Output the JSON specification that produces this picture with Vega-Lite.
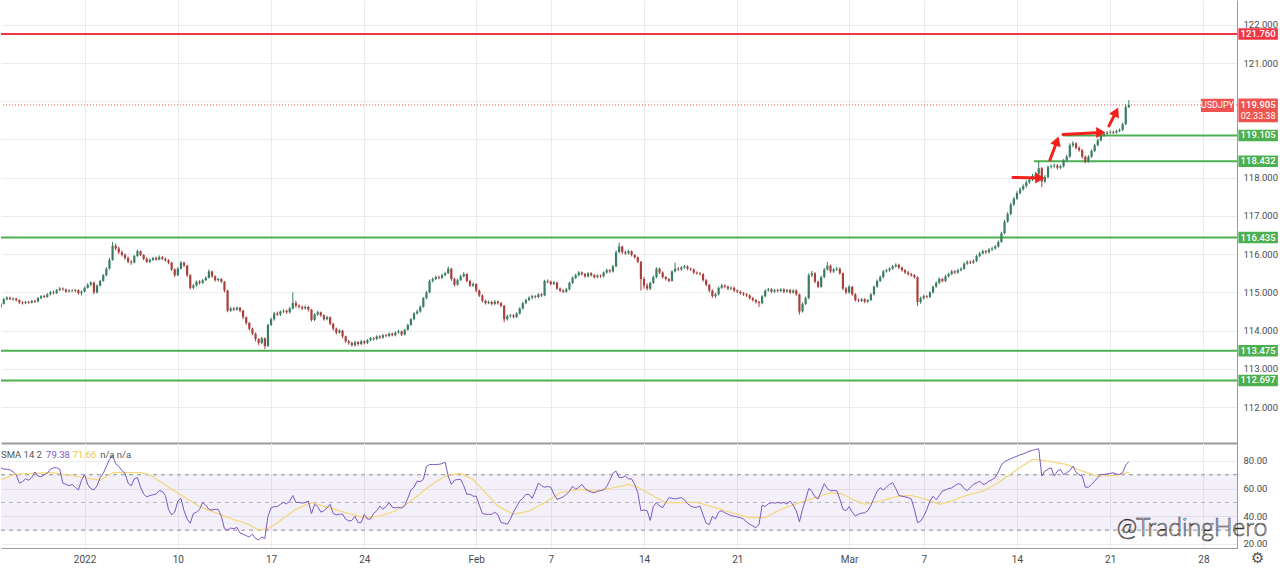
{
"$schema": "https://vega.github.io/schema/vega-lite/v6.json",
"padding": 0,
"spacing": 0,
"background": "white",
"config": {"view": {"stroke": null}, "font": "Roboto", "concat": {"spacing": 0},
  "axis": {"labelFont": "Roboto", "labelFontSize": 9.5, "labelColor": "#4a4a4a", "gridColor": "#ececec", "domainColor": "#9a9a9a", "tickColor": "#9a9a9a", "labelOverlap": false}},
"datasets": {
"levels": [
{"p":121.76,"k0":-27,"c":"red"},{"p":119.105,"k0":314.8,"c":"green"},{"p":118.432,"k0":305.5,"c":"green"},
{"p":116.435,"k0":-27,"c":"green"},{"p":113.475,"k0":-27,"c":"green"},{"p":112.697,"k0":-27,"c":"green"}],
"tags": [
{"p":121.76,"lab":"121.760","c":"red"},{"p":119.105,"lab":"119.105","c":"green"},{"p":118.432,"lab":"118.432","c":"green"},
{"p":116.435,"lab":"116.435","c":"green"},{"p":113.475,"lab":"113.475","c":"green"},{"p":112.697,"lab":"112.697","c":"green"}],
"last": [{"p":119.905,"lab":"119.905","time":"02:33:38","sym":"USDJPY"}],
"bands": [{"lo":30,"hi":70}],
"arrows": [
{"id":1,"k1":298.7,"p1":118.008,"k2":307.4,"p2":117.995},
{"id":2,"k1":310.6,"p1":118.466,"k2":312.9,"p2":118.963},
{"id":3,"k1":314.8,"p1":119.134,"k2":327.0,"p2":119.186},
{"id":4,"k1":329.6,"p1":119.356,"k2":331.9,"p2":119.723}],
"candles": [
{"k":-27,"o":114.62,"h":114.74,"l":114.58,"c":114.70,"r":75,"s":66},
{"k":-26,"o":114.70,"h":114.86,"l":114.68,"c":114.82,"r":74,"s":67},
{"k":-25,"o":114.82,"h":114.90,"l":114.79,"c":114.86,"r":74,"s":68},
{"k":-24,"o":114.86,"h":114.89,"l":114.80,"c":114.82,"r":73.5,"s":69},
{"k":-23,"o":114.82,"h":114.87,"l":114.78,"c":114.84,"r":72,"s":70},
{"k":-22,"o":114.84,"h":114.86,"l":114.76,"c":114.80,"r":70,"s":70.3},
{"k":-21,"o":114.80,"h":114.82,"l":114.70,"c":114.74,"r":64,"s":70.5},
{"k":-20,"o":114.74,"h":114.77,"l":114.68,"c":114.72,"r":65,"s":70.7},
{"k":-19,"o":114.72,"h":114.78,"l":114.69,"c":114.75,"r":67,"s":70.8},
{"k":-18,"o":114.75,"h":114.78,"l":114.70,"c":114.73,"r":66,"s":70.9},
{"k":-17,"o":114.73,"h":114.80,"l":114.71,"c":114.78,"r":68,"s":71},
{"k":-16,"o":114.78,"h":114.81,"l":114.72,"c":114.76,"r":72,"s":71.1},
{"k":-15,"o":114.76,"h":114.88,"l":114.74,"c":114.85,"r":69,"s":71.2},
{"k":-14,"o":114.85,"h":114.93,"l":114.82,"c":114.90,"r":68.5,"s":71.3},
{"k":-13,"o":114.90,"h":114.94,"l":114.85,"c":114.88,"r":70,"s":71.4},
{"k":-12,"o":114.88,"h":114.98,"l":114.86,"c":114.95,"r":71,"s":71.5},
{"k":-11,"o":114.95,"h":115.04,"l":114.92,"c":115.00,"r":74,"s":71.5},
{"k":-10,"o":115.00,"h":115.05,"l":114.95,"c":114.98,"r":75,"s":71.3},
{"k":-9,"o":114.98,"h":115.09,"l":114.96,"c":115.06,"r":75,"s":71},
{"k":-8,"o":115.06,"h":115.14,"l":115.03,"c":115.10,"r":74,"s":70.7},
{"k":-7,"o":115.10,"h":115.13,"l":115.04,"c":115.08,"r":64,"s":70.4},
{"k":-6,"o":115.08,"h":115.10,"l":114.99,"c":115.02,"r":63,"s":70},
{"k":-5,"o":115.02,"h":115.08,"l":115.00,"c":115.05,"r":62,"s":69.7},
{"k":-4,"o":115.05,"h":115.08,"l":115.01,"c":115.04,"r":63,"s":69.3},
{"k":-3,"o":115.04,"h":115.09,"l":115.00,"c":115.06,"r":61,"s":69},
{"k":-2,"o":115.06,"h":115.08,"l":114.94,"c":114.98,"r":59,"s":68.7},
{"k":-1,"o":114.98,"h":115.05,"l":114.92,"c":115.02,"r":66,"s":68.3},
{"k":0,"o":115.02,"h":115.15,"l":115.00,"c":115.12,"r":70,"s":68},
{"k":1,"o":115.12,"h":115.24,"l":115.10,"c":115.20,"r":63,"s":67.6},
{"k":2,"o":115.20,"h":115.29,"l":115.16,"c":115.26,"r":60,"s":67.2},
{"k":3,"o":115.26,"h":115.28,"l":114.95,"c":115.00,"r":59,"s":66.8},
{"k":4,"o":115.00,"h":115.21,"l":114.97,"c":115.18,"r":62,"s":66.4},
{"k":5,"o":115.18,"h":115.33,"l":115.15,"c":115.30,"r":68,"s":66},
{"k":6,"o":115.30,"h":115.48,"l":115.28,"c":115.45,"r":71,"s":67.4},
{"k":7,"o":115.45,"h":115.66,"l":115.42,"c":115.62,"r":76,"s":68.8},
{"k":8,"o":115.62,"h":115.90,"l":115.60,"c":115.85,"r":81,"s":70.2},
{"k":9,"o":115.85,"h":116.32,"l":115.83,"c":116.22,"r":84,"s":71.5},
{"k":10,"o":116.22,"h":116.28,"l":116.10,"c":116.15,"r":78,"s":71.5},
{"k":11,"o":116.15,"h":116.20,"l":116.00,"c":116.05,"r":76,"s":71.5},
{"k":12,"o":116.05,"h":116.10,"l":115.94,"c":115.98,"r":73,"s":71.5},
{"k":13,"o":115.98,"h":116.02,"l":115.85,"c":115.90,"r":71,"s":71.5},
{"k":14,"o":115.90,"h":115.94,"l":115.76,"c":115.80,"r":64,"s":71.5},
{"k":15,"o":115.80,"h":115.85,"l":115.72,"c":115.78,"r":62,"s":71.5},
{"k":16,"o":115.78,"h":115.98,"l":115.76,"c":115.95,"r":67,"s":71.5},
{"k":17,"o":115.95,"h":116.12,"l":115.93,"c":116.08,"r":68,"s":71.5},
{"k":18,"o":116.08,"h":116.10,"l":115.95,"c":115.98,"r":61,"s":71.5},
{"k":19,"o":115.98,"h":116.00,"l":115.84,"c":115.88,"r":56,"s":71},
{"k":20,"o":115.88,"h":115.92,"l":115.77,"c":115.80,"r":54,"s":70.5},
{"k":21,"o":115.80,"h":115.89,"l":115.77,"c":115.85,"r":55,"s":70},
{"k":22,"o":115.85,"h":115.93,"l":115.82,"c":115.90,"r":55.5,"s":68.5},
{"k":23,"o":115.90,"h":115.94,"l":115.83,"c":115.86,"r":56,"s":67},
{"k":24,"o":115.86,"h":115.97,"l":115.84,"c":115.92,"r":58.5,"s":65.5},
{"k":25,"o":115.92,"h":115.95,"l":115.85,"c":115.88,"r":58,"s":64},
{"k":26,"o":115.88,"h":115.91,"l":115.80,"c":115.84,"r":55,"s":62.5},
{"k":27,"o":115.84,"h":115.87,"l":115.74,"c":115.78,"r":45,"s":61},
{"k":28,"o":115.78,"h":115.80,"l":115.56,"c":115.60,"r":41,"s":59.6},
{"k":29,"o":115.60,"h":115.63,"l":115.40,"c":115.45,"r":43,"s":58.2},
{"k":30,"o":115.45,"h":115.66,"l":115.43,"c":115.62,"r":51,"s":56.8},
{"k":31,"o":115.62,"h":115.82,"l":115.60,"c":115.78,"r":53,"s":55.4},
{"k":32,"o":115.78,"h":115.80,"l":115.66,"c":115.70,"r":44,"s":54},
{"k":33,"o":115.70,"h":115.72,"l":115.40,"c":115.45,"r":38,"s":52.6},
{"k":34,"o":115.45,"h":115.48,"l":115.08,"c":115.12,"r":35,"s":51.2},
{"k":35,"o":115.12,"h":115.22,"l":115.08,"c":115.18,"r":42,"s":49.8},
{"k":36,"o":115.18,"h":115.31,"l":115.15,"c":115.28,"r":43,"s":48.4},
{"k":37,"o":115.28,"h":115.32,"l":115.21,"c":115.25,"r":45,"s":47},
{"k":38,"o":115.25,"h":115.35,"l":115.22,"c":115.32,"r":50,"s":46.1},
{"k":39,"o":115.32,"h":115.42,"l":115.30,"c":115.38,"r":48,"s":45.2},
{"k":40,"o":115.38,"h":115.60,"l":115.36,"c":115.55,"r":45,"s":44.4},
{"k":41,"o":115.55,"h":115.57,"l":115.38,"c":115.42,"r":44.5,"s":43.5},
{"k":42,"o":115.42,"h":115.45,"l":115.28,"c":115.32,"r":45,"s":42.6},
{"k":43,"o":115.32,"h":115.38,"l":115.28,"c":115.35,"r":45,"s":41.8},
{"k":44,"o":115.35,"h":115.37,"l":115.24,"c":115.28,"r":40,"s":41},
{"k":45,"o":115.28,"h":115.30,"l":115.00,"c":115.05,"r":31,"s":40.1},
{"k":46,"o":115.05,"h":115.07,"l":114.48,"c":114.52,"r":30,"s":39.3},
{"k":47,"o":114.52,"h":114.62,"l":114.49,"c":114.58,"r":31.5,"s":38.4},
{"k":48,"o":114.58,"h":114.62,"l":114.51,"c":114.55,"r":31,"s":37.6},
{"k":49,"o":114.55,"h":114.63,"l":114.52,"c":114.60,"r":32,"s":36.9},
{"k":50,"o":114.60,"h":114.62,"l":114.48,"c":114.52,"r":28,"s":36.2},
{"k":51,"o":114.52,"h":114.54,"l":114.30,"c":114.35,"r":27,"s":35.5},
{"k":52,"o":114.35,"h":114.37,"l":114.15,"c":114.20,"r":26,"s":34.7},
{"k":53,"o":114.20,"h":114.23,"l":114.00,"c":114.05,"r":25,"s":34},
{"k":54,"o":114.05,"h":114.08,"l":113.88,"c":113.92,"r":27,"s":32.7},
{"k":55,"o":113.92,"h":113.95,"l":113.72,"c":113.78,"r":24,"s":31.3},
{"k":56,"o":113.78,"h":113.80,"l":113.62,"c":113.68,"r":23,"s":30},
{"k":57,"o":113.68,"h":113.84,"l":113.65,"c":113.80,"r":25,"s":30.3},
{"k":58,"o":113.80,"h":113.82,"l":113.52,"c":113.60,"r":24,"s":30.7},
{"k":59,"o":113.60,"h":114.18,"l":113.57,"c":114.15,"r":40,"s":31},
{"k":60,"o":114.15,"h":114.34,"l":114.12,"c":114.30,"r":46,"s":32.5},
{"k":61,"o":114.30,"h":114.49,"l":114.26,"c":114.45,"r":47,"s":33.9},
{"k":62,"o":114.45,"h":114.50,"l":114.38,"c":114.42,"r":47,"s":35.4},
{"k":63,"o":114.42,"h":114.53,"l":114.38,"c":114.50,"r":48.6,"s":37},
{"k":64,"o":114.50,"h":114.56,"l":114.46,"c":114.52,"r":50,"s":38.7},
{"k":65,"o":114.52,"h":114.55,"l":114.44,"c":114.48,"r":49,"s":40.3},
{"k":66,"o":114.48,"h":114.62,"l":114.45,"c":114.58,"r":51,"s":42},
{"k":67,"o":114.58,"h":115.00,"l":114.55,"c":114.72,"r":55,"s":43.5},
{"k":68,"o":114.72,"h":114.78,"l":114.60,"c":114.65,"r":50,"s":45},
{"k":69,"o":114.65,"h":114.69,"l":114.58,"c":114.62,"r":50,"s":46},
{"k":70,"o":114.62,"h":114.66,"l":114.54,"c":114.58,"r":49.5,"s":47},
{"k":71,"o":114.58,"h":114.66,"l":114.55,"c":114.62,"r":50,"s":48},
{"k":72,"o":114.62,"h":114.65,"l":114.50,"c":114.55,"r":51,"s":49},
{"k":73,"o":114.55,"h":114.57,"l":114.24,"c":114.28,"r":42,"s":49.8},
{"k":74,"o":114.28,"h":114.46,"l":114.25,"c":114.42,"r":48.6,"s":49.2},
{"k":75,"o":114.42,"h":114.52,"l":114.39,"c":114.48,"r":47,"s":48.5},
{"k":76,"o":114.48,"h":114.50,"l":114.36,"c":114.40,"r":43,"s":47.9},
{"k":77,"o":114.40,"h":114.43,"l":114.26,"c":114.30,"r":44,"s":47.2},
{"k":78,"o":114.30,"h":114.39,"l":114.27,"c":114.35,"r":46,"s":46.6},
{"k":79,"o":114.35,"h":114.37,"l":114.14,"c":114.18,"r":48.6,"s":46},
{"k":80,"o":114.18,"h":114.21,"l":114.00,"c":114.05,"r":42,"s":45.3},
{"k":81,"o":114.05,"h":114.08,"l":113.90,"c":113.95,"r":41,"s":44.6},
{"k":82,"o":113.95,"h":114.04,"l":113.92,"c":114.00,"r":41.5,"s":44},
{"k":83,"o":114.00,"h":114.02,"l":113.80,"c":113.85,"r":41.5,"s":43.3},
{"k":84,"o":113.85,"h":113.87,"l":113.68,"c":113.72,"r":38,"s":42.6},
{"k":85,"o":113.72,"h":113.76,"l":113.63,"c":113.68,"r":36.6,"s":42},
{"k":86,"o":113.68,"h":113.71,"l":113.58,"c":113.62,"r":37,"s":41.4},
{"k":87,"o":113.62,"h":113.74,"l":113.58,"c":113.70,"r":40,"s":40.8},
{"k":88,"o":113.70,"h":113.73,"l":113.60,"c":113.65,"r":35.4,"s":40.2},
{"k":89,"o":113.65,"h":113.76,"l":113.62,"c":113.72,"r":35.4,"s":39.6},
{"k":90,"o":113.72,"h":113.75,"l":113.64,"c":113.68,"r":41.4,"s":39},
{"k":91,"o":113.68,"h":113.78,"l":113.65,"c":113.75,"r":38,"s":39.2},
{"k":92,"o":113.75,"h":113.83,"l":113.72,"c":113.80,"r":38,"s":39.5},
{"k":93,"o":113.80,"h":113.83,"l":113.74,"c":113.78,"r":42,"s":39.7},
{"k":94,"o":113.78,"h":113.88,"l":113.75,"c":113.85,"r":44,"s":40},
{"k":95,"o":113.85,"h":113.88,"l":113.78,"c":113.82,"r":47.4,"s":40.2},
{"k":96,"o":113.82,"h":113.91,"l":113.79,"c":113.88,"r":45,"s":40.9},
{"k":97,"o":113.88,"h":113.91,"l":113.83,"c":113.86,"r":47,"s":41.6},
{"k":98,"o":113.86,"h":113.95,"l":113.83,"c":113.92,"r":50,"s":42.4},
{"k":99,"o":113.92,"h":113.95,"l":113.85,"c":113.88,"r":46.5,"s":43.1},
{"k":100,"o":113.88,"h":113.98,"l":113.85,"c":113.95,"r":46,"s":43.8},
{"k":101,"o":113.95,"h":114.02,"l":113.92,"c":113.98,"r":46.5,"s":45.2},
{"k":102,"o":113.98,"h":114.00,"l":113.86,"c":113.90,"r":46,"s":46.6},
{"k":103,"o":113.90,"h":114.05,"l":113.87,"c":114.02,"r":47.5,"s":48.1},
{"k":104,"o":114.02,"h":114.18,"l":114.00,"c":114.15,"r":53,"s":49.5},
{"k":105,"o":114.15,"h":114.33,"l":114.12,"c":114.30,"r":59,"s":51},
{"k":106,"o":114.30,"h":114.48,"l":114.27,"c":114.45,"r":61,"s":52.8},
{"k":107,"o":114.45,"h":114.55,"l":114.42,"c":114.50,"r":65.4,"s":54.6},
{"k":108,"o":114.50,"h":114.66,"l":114.47,"c":114.62,"r":65,"s":56.4},
{"k":109,"o":114.62,"h":114.88,"l":114.60,"c":114.85,"r":66.6,"s":58.2},
{"k":110,"o":114.85,"h":115.04,"l":114.82,"c":115.00,"r":76,"s":60},
{"k":111,"o":115.00,"h":115.34,"l":114.98,"c":115.30,"r":77.4,"s":61.8},
{"k":112,"o":115.30,"h":115.39,"l":115.26,"c":115.35,"r":77.4,"s":63.2},
{"k":113,"o":115.35,"h":115.44,"l":115.32,"c":115.40,"r":77.4,"s":64.7},
{"k":114,"o":115.40,"h":115.44,"l":115.34,"c":115.38,"r":77.5,"s":66.1},
{"k":115,"o":115.38,"h":115.49,"l":115.35,"c":115.45,"r":78,"s":67.6},
{"k":116,"o":115.45,"h":115.54,"l":115.42,"c":115.50,"r":79,"s":69},
{"k":117,"o":115.50,"h":115.68,"l":115.48,"c":115.62,"r":69,"s":69.4},
{"k":118,"o":115.62,"h":115.64,"l":115.30,"c":115.35,"r":63,"s":69.8},
{"k":119,"o":115.35,"h":115.38,"l":115.16,"c":115.20,"r":66,"s":70.2},
{"k":120,"o":115.20,"h":115.36,"l":115.18,"c":115.32,"r":66.6,"s":70.6},
{"k":121,"o":115.32,"h":115.46,"l":115.30,"c":115.42,"r":66.6,"s":71},
{"k":122,"o":115.42,"h":115.53,"l":115.39,"c":115.48,"r":62,"s":69.9},
{"k":123,"o":115.48,"h":115.50,"l":115.26,"c":115.30,"r":55.8,"s":68.8},
{"k":124,"o":115.30,"h":115.33,"l":115.14,"c":115.18,"r":56,"s":67.7},
{"k":125,"o":115.18,"h":115.26,"l":115.14,"c":115.22,"r":54.5,"s":66.6},
{"k":126,"o":115.22,"h":115.24,"l":115.00,"c":115.05,"r":54.5,"s":64.2},
{"k":127,"o":115.05,"h":115.08,"l":114.88,"c":114.92,"r":48,"s":61.8},
{"k":128,"o":114.92,"h":114.95,"l":114.74,"c":114.78,"r":42,"s":59.4},
{"k":129,"o":114.78,"h":114.81,"l":114.68,"c":114.72,"r":41.4,"s":57},
{"k":130,"o":114.72,"h":114.79,"l":114.69,"c":114.75,"r":41.4,"s":54.6},
{"k":131,"o":114.75,"h":114.78,"l":114.66,"c":114.70,"r":41.4,"s":52.2},
{"k":132,"o":114.70,"h":114.80,"l":114.67,"c":114.76,"r":43,"s":49.8},
{"k":133,"o":114.76,"h":114.79,"l":114.68,"c":114.72,"r":41,"s":47.4},
{"k":134,"o":114.72,"h":114.75,"l":114.61,"c":114.65,"r":35.4,"s":46.2},
{"k":135,"o":114.65,"h":114.67,"l":114.22,"c":114.30,"r":35,"s":45},
{"k":136,"o":114.30,"h":114.42,"l":114.26,"c":114.38,"r":34.2,"s":43.8},
{"k":137,"o":114.38,"h":114.44,"l":114.34,"c":114.40,"r":38,"s":42.6},
{"k":138,"o":114.40,"h":114.43,"l":114.32,"c":114.36,"r":43,"s":41.4},
{"k":139,"o":114.36,"h":114.48,"l":114.33,"c":114.45,"r":47,"s":41.9},
{"k":140,"o":114.45,"h":114.61,"l":114.42,"c":114.58,"r":51,"s":42.4},
{"k":141,"o":114.58,"h":114.75,"l":114.55,"c":114.72,"r":53,"s":42.8},
{"k":142,"o":114.72,"h":114.84,"l":114.69,"c":114.80,"r":55.8,"s":43.3},
{"k":143,"o":114.80,"h":114.90,"l":114.77,"c":114.86,"r":55.8,"s":43.8},
{"k":144,"o":114.86,"h":114.94,"l":114.82,"c":114.90,"r":53,"s":45},
{"k":145,"o":114.90,"h":114.93,"l":114.84,"c":114.88,"r":58,"s":46.2},
{"k":146,"o":114.88,"h":114.98,"l":114.85,"c":114.95,"r":64,"s":47.4},
{"k":147,"o":114.95,"h":114.98,"l":114.88,"c":114.92,"r":62,"s":48.6},
{"k":148,"o":114.92,"h":115.33,"l":114.90,"c":115.30,"r":61,"s":49.8},
{"k":149,"o":115.30,"h":115.34,"l":115.24,"c":115.28,"r":61.5,"s":51.2},
{"k":150,"o":115.28,"h":115.31,"l":115.18,"c":115.22,"r":61,"s":52.7},
{"k":151,"o":115.22,"h":115.30,"l":115.19,"c":115.26,"r":56,"s":54.1},
{"k":152,"o":115.26,"h":115.28,"l":115.06,"c":115.10,"r":52.2,"s":55.6},
{"k":153,"o":115.10,"h":115.13,"l":115.01,"c":115.05,"r":53,"s":57},
{"k":154,"o":115.05,"h":115.08,"l":114.98,"c":115.02,"r":54,"s":57.4},
{"k":155,"o":115.02,"h":115.12,"l":114.99,"c":115.08,"r":55.8,"s":57.8},
{"k":156,"o":115.08,"h":115.28,"l":115.05,"c":115.25,"r":58,"s":58.2},
{"k":157,"o":115.25,"h":115.42,"l":115.22,"c":115.38,"r":61.8,"s":58.6},
{"k":158,"o":115.38,"h":115.49,"l":115.35,"c":115.45,"r":59.5,"s":59},
{"k":159,"o":115.45,"h":115.56,"l":115.42,"c":115.52,"r":61,"s":59.4},
{"k":160,"o":115.52,"h":115.55,"l":115.44,"c":115.48,"r":63,"s":59.2},
{"k":161,"o":115.48,"h":115.51,"l":115.38,"c":115.42,"r":60,"s":58.9},
{"k":162,"o":115.42,"h":115.53,"l":115.39,"c":115.50,"r":58.5,"s":58.7},
{"k":163,"o":115.50,"h":115.53,"l":115.41,"c":115.45,"r":57.5,"s":58.4},
{"k":164,"o":115.45,"h":115.48,"l":115.36,"c":115.40,"r":57,"s":58.2},
{"k":165,"o":115.40,"h":115.47,"l":115.37,"c":115.44,"r":58,"s":58.6},
{"k":166,"o":115.44,"h":115.47,"l":115.38,"c":115.42,"r":58.5,"s":59},
{"k":167,"o":115.42,"h":115.55,"l":115.39,"c":115.52,"r":59,"s":59.4},
{"k":168,"o":115.52,"h":115.62,"l":115.49,"c":115.58,"r":61.5,"s":59.8},
{"k":169,"o":115.58,"h":115.61,"l":115.51,"c":115.55,"r":66,"s":60.2},
{"k":170,"o":115.55,"h":115.72,"l":115.52,"c":115.68,"r":71,"s":60.6},
{"k":171,"o":115.68,"h":116.10,"l":115.66,"c":116.05,"r":72.6,"s":61.1},
{"k":172,"o":116.05,"h":116.30,"l":116.02,"c":116.20,"r":68,"s":61.6},
{"k":173,"o":116.20,"h":116.22,"l":116.00,"c":116.05,"r":68,"s":62},
{"k":174,"o":116.05,"h":116.10,"l":115.98,"c":116.02,"r":69,"s":62.5},
{"k":175,"o":116.02,"h":116.12,"l":115.99,"c":116.08,"r":67,"s":63},
{"k":176,"o":116.08,"h":116.10,"l":115.94,"c":115.98,"r":67,"s":62.3},
{"k":177,"o":115.98,"h":116.00,"l":115.88,"c":115.92,"r":63,"s":61.7},
{"k":178,"o":115.92,"h":115.94,"l":115.76,"c":115.80,"r":57,"s":61},
{"k":179,"o":115.80,"h":115.82,"l":115.05,"c":115.35,"r":44,"s":59.7},
{"k":180,"o":115.35,"h":115.40,"l":115.10,"c":115.18,"r":44.5,"s":58.4},
{"k":181,"o":115.18,"h":115.24,"l":115.05,"c":115.10,"r":44,"s":57.2},
{"k":182,"o":115.10,"h":115.28,"l":115.06,"c":115.25,"r":37,"s":55.9},
{"k":183,"o":115.25,"h":115.44,"l":115.22,"c":115.40,"r":47,"s":54.6},
{"k":184,"o":115.40,"h":115.66,"l":115.37,"c":115.62,"r":50,"s":53.4},
{"k":185,"o":115.62,"h":115.65,"l":115.48,"c":115.52,"r":47.4,"s":52.2},
{"k":186,"o":115.52,"h":115.55,"l":115.36,"c":115.40,"r":46.2,"s":51},
{"k":187,"o":115.40,"h":115.43,"l":115.31,"c":115.35,"r":50,"s":49.8},
{"k":188,"o":115.35,"h":115.38,"l":115.26,"c":115.30,"r":53.4,"s":49.8},
{"k":189,"o":115.30,"h":115.58,"l":115.28,"c":115.55,"r":53,"s":49.8},
{"k":190,"o":115.55,"h":115.78,"l":115.52,"c":115.62,"r":52.5,"s":49.8},
{"k":191,"o":115.62,"h":115.66,"l":115.56,"c":115.60,"r":53,"s":49.8},
{"k":192,"o":115.60,"h":115.69,"l":115.57,"c":115.65,"r":53.5,"s":49.9},
{"k":193,"o":115.65,"h":115.72,"l":115.62,"c":115.68,"r":52,"s":49.9},
{"k":194,"o":115.68,"h":115.71,"l":115.58,"c":115.62,"r":49,"s":50},
{"k":195,"o":115.62,"h":115.65,"l":115.56,"c":115.60,"r":47.4,"s":50},
{"k":196,"o":115.60,"h":115.63,"l":115.48,"c":115.52,"r":46.5,"s":50},
{"k":197,"o":115.52,"h":115.55,"l":115.46,"c":115.50,"r":46.5,"s":50},
{"k":198,"o":115.50,"h":115.53,"l":115.44,"c":115.48,"r":47.4,"s":49.4},
{"k":199,"o":115.48,"h":115.50,"l":115.28,"c":115.32,"r":41,"s":48.8},
{"k":200,"o":115.32,"h":115.35,"l":115.16,"c":115.20,"r":35,"s":48.1},
{"k":201,"o":115.20,"h":115.22,"l":115.00,"c":115.05,"r":34,"s":47.5},
{"k":202,"o":115.05,"h":115.08,"l":114.86,"c":114.90,"r":40,"s":46.8},
{"k":203,"o":114.90,"h":114.99,"l":114.86,"c":114.95,"r":38,"s":46.2},
{"k":204,"o":114.95,"h":115.15,"l":114.92,"c":115.12,"r":43,"s":45.5},
{"k":205,"o":115.12,"h":115.22,"l":115.09,"c":115.18,"r":44,"s":44.8},
{"k":206,"o":115.18,"h":115.21,"l":115.11,"c":115.15,"r":42.5,"s":44},
{"k":207,"o":115.15,"h":115.18,"l":115.06,"c":115.10,"r":41.5,"s":43.3},
{"k":208,"o":115.10,"h":115.16,"l":115.06,"c":115.12,"r":40.5,"s":42.6},
{"k":209,"o":115.12,"h":115.15,"l":115.01,"c":115.05,"r":40,"s":42},
{"k":210,"o":115.05,"h":115.08,"l":114.98,"c":115.02,"r":39.5,"s":41.4},
{"k":211,"o":115.02,"h":115.05,"l":114.94,"c":114.98,"r":39,"s":40.8},
{"k":212,"o":114.98,"h":115.01,"l":114.91,"c":114.95,"r":38,"s":40.2},
{"k":213,"o":114.95,"h":114.98,"l":114.88,"c":114.92,"r":36,"s":39.6},
{"k":214,"o":114.92,"h":114.95,"l":114.81,"c":114.85,"r":34.2,"s":39},
{"k":215,"o":114.85,"h":114.88,"l":114.76,"c":114.80,"r":33,"s":39},
{"k":216,"o":114.80,"h":114.83,"l":114.71,"c":114.75,"r":31.8,"s":39},
{"k":217,"o":114.75,"h":114.78,"l":114.62,"c":114.72,"r":34,"s":39},
{"k":218,"o":114.72,"h":114.93,"l":114.69,"c":114.90,"r":48,"s":39},
{"k":219,"o":114.90,"h":115.08,"l":114.87,"c":115.05,"r":47,"s":39},
{"k":220,"o":115.05,"h":115.12,"l":115.02,"c":115.08,"r":49,"s":40.2},
{"k":221,"o":115.08,"h":115.11,"l":114.98,"c":115.02,"r":49.8,"s":41.4},
{"k":222,"o":115.02,"h":115.09,"l":114.99,"c":115.06,"r":49.5,"s":42.6},
{"k":223,"o":115.06,"h":115.09,"l":115.00,"c":115.04,"r":50,"s":43.8},
{"k":224,"o":115.04,"h":115.11,"l":115.01,"c":115.08,"r":49.5,"s":45},
{"k":225,"o":115.08,"h":115.11,"l":114.98,"c":115.02,"r":50,"s":45.8},
{"k":226,"o":115.02,"h":115.09,"l":114.99,"c":115.06,"r":48.8,"s":46.6},
{"k":227,"o":115.06,"h":115.09,"l":114.96,"c":115.00,"r":51,"s":47.4},
{"k":228,"o":115.00,"h":115.08,"l":114.97,"c":115.05,"r":48,"s":48.2},
{"k":229,"o":115.05,"h":115.08,"l":114.91,"c":114.95,"r":44,"s":49},
{"k":230,"o":114.95,"h":114.97,"l":114.42,"c":114.50,"r":36,"s":49.8},
{"k":231,"o":114.50,"h":114.74,"l":114.47,"c":114.70,"r":45,"s":50.5},
{"k":232,"o":114.70,"h":114.89,"l":114.67,"c":114.85,"r":52,"s":51.2},
{"k":233,"o":114.85,"h":115.50,"l":114.82,"c":115.45,"r":60,"s":52},
{"k":234,"o":115.45,"h":115.56,"l":115.40,"c":115.50,"r":58,"s":52.7},
{"k":235,"o":115.50,"h":115.53,"l":115.24,"c":115.28,"r":54,"s":53.4},
{"k":236,"o":115.28,"h":115.31,"l":115.11,"c":115.15,"r":52.5,"s":54.1},
{"k":237,"o":115.15,"h":115.44,"l":115.12,"c":115.40,"r":58,"s":54.8},
{"k":238,"o":115.40,"h":115.64,"l":115.37,"c":115.60,"r":63.5,"s":55.6},
{"k":239,"o":115.60,"h":115.80,"l":115.57,"c":115.70,"r":60,"s":56.3},
{"k":240,"o":115.70,"h":115.73,"l":115.51,"c":115.55,"r":58.5,"s":57},
{"k":241,"o":115.55,"h":115.64,"l":115.51,"c":115.60,"r":58.5,"s":56.8},
{"k":242,"o":115.60,"h":115.67,"l":115.56,"c":115.62,"r":58.5,"s":56.5},
{"k":243,"o":115.62,"h":115.65,"l":115.46,"c":115.50,"r":52.5,"s":56.3},
{"k":244,"o":115.50,"h":115.52,"l":115.06,"c":115.10,"r":45,"s":56},
{"k":245,"o":115.10,"h":115.14,"l":114.95,"c":115.00,"r":44,"s":54.7},
{"k":246,"o":115.00,"h":115.19,"l":114.97,"c":115.15,"r":47,"s":53.5},
{"k":247,"o":115.15,"h":115.17,"l":114.91,"c":114.95,"r":43,"s":52.2},
{"k":248,"o":114.95,"h":114.98,"l":114.76,"c":114.80,"r":40.2,"s":51.3},
{"k":249,"o":114.80,"h":114.84,"l":114.74,"c":114.78,"r":41.5,"s":50.4},
{"k":250,"o":114.78,"h":114.85,"l":114.75,"c":114.82,"r":42.3,"s":49.5},
{"k":251,"o":114.82,"h":114.85,"l":114.72,"c":114.76,"r":42.5,"s":48.6},
{"k":252,"o":114.76,"h":114.83,"l":114.73,"c":114.80,"r":44,"s":49.1},
{"k":253,"o":114.80,"h":114.98,"l":114.77,"c":114.95,"r":48,"s":49.6},
{"k":254,"o":114.95,"h":115.18,"l":114.92,"c":115.15,"r":53,"s":50},
{"k":255,"o":115.15,"h":115.34,"l":115.12,"c":115.30,"r":58,"s":50.5},
{"k":256,"o":115.30,"h":115.44,"l":115.27,"c":115.40,"r":60.6,"s":51},
{"k":257,"o":115.40,"h":115.59,"l":115.37,"c":115.55,"r":59,"s":51.6},
{"k":258,"o":115.55,"h":115.62,"l":115.52,"c":115.58,"r":61,"s":52.2},
{"k":259,"o":115.58,"h":115.66,"l":115.54,"c":115.62,"r":63,"s":52.8},
{"k":260,"o":115.62,"h":115.72,"l":115.59,"c":115.68,"r":64.2,"s":53.4},
{"k":261,"o":115.68,"h":115.76,"l":115.65,"c":115.72,"r":60,"s":54},
{"k":262,"o":115.72,"h":115.75,"l":115.61,"c":115.65,"r":55,"s":54.6},
{"k":263,"o":115.65,"h":115.68,"l":115.54,"c":115.58,"r":54.5,"s":54.7},
{"k":264,"o":115.58,"h":115.61,"l":115.48,"c":115.52,"r":54,"s":54.8},
{"k":265,"o":115.52,"h":115.56,"l":115.44,"c":115.48,"r":53.5,"s":54.9},
{"k":266,"o":115.48,"h":115.51,"l":115.41,"c":115.45,"r":52.5,"s":55},
{"k":267,"o":115.45,"h":115.48,"l":115.36,"c":115.40,"r":45,"s":54.4},
{"k":268,"o":115.40,"h":115.42,"l":114.65,"c":114.75,"r":35.4,"s":53.9},
{"k":269,"o":114.75,"h":114.89,"l":114.70,"c":114.85,"r":36.5,"s":53.3},
{"k":270,"o":114.85,"h":114.94,"l":114.81,"c":114.90,"r":40,"s":52.8},
{"k":271,"o":114.90,"h":114.93,"l":114.84,"c":114.88,"r":45,"s":52.2},
{"k":272,"o":114.88,"h":115.03,"l":114.85,"c":115.00,"r":51,"s":51.3},
{"k":273,"o":115.00,"h":115.18,"l":114.97,"c":115.15,"r":54.5,"s":50.4},
{"k":274,"o":115.15,"h":115.29,"l":115.12,"c":115.25,"r":52,"s":49.5},
{"k":275,"o":115.25,"h":115.39,"l":115.22,"c":115.35,"r":55,"s":48.6},
{"k":276,"o":115.35,"h":115.38,"l":115.26,"c":115.30,"r":58.2,"s":49.2},
{"k":277,"o":115.30,"h":115.46,"l":115.27,"c":115.42,"r":59,"s":49.8},
{"k":278,"o":115.42,"h":115.52,"l":115.39,"c":115.48,"r":60,"s":50.4},
{"k":279,"o":115.48,"h":115.59,"l":115.45,"c":115.55,"r":60.5,"s":51},
{"k":280,"o":115.55,"h":115.58,"l":115.48,"c":115.52,"r":62,"s":51.9},
{"k":281,"o":115.52,"h":115.62,"l":115.49,"c":115.58,"r":63.5,"s":52.8},
{"k":282,"o":115.58,"h":115.66,"l":115.55,"c":115.62,"r":63,"s":53.7},
{"k":283,"o":115.62,"h":115.79,"l":115.59,"c":115.75,"r":60,"s":54.6},
{"k":284,"o":115.75,"h":115.84,"l":115.72,"c":115.80,"r":58.5,"s":55.2},
{"k":285,"o":115.80,"h":115.84,"l":115.74,"c":115.78,"r":61,"s":55.8},
{"k":286,"o":115.78,"h":115.86,"l":115.75,"c":115.82,"r":63,"s":56.4},
{"k":287,"o":115.82,"h":115.99,"l":115.79,"c":115.95,"r":64,"s":57},
{"k":288,"o":115.95,"h":116.06,"l":115.92,"c":116.02,"r":65.4,"s":57.6},
{"k":289,"o":116.02,"h":116.12,"l":115.99,"c":116.08,"r":63,"s":58.2},
{"k":290,"o":116.08,"h":116.11,"l":116.01,"c":116.05,"r":63.5,"s":59.4},
{"k":291,"o":116.05,"h":116.16,"l":116.02,"c":116.12,"r":65.4,"s":60.6},
{"k":292,"o":116.12,"h":116.19,"l":116.09,"c":116.15,"r":66.5,"s":61.8},
{"k":293,"o":116.15,"h":116.24,"l":116.12,"c":116.20,"r":68,"s":63},
{"k":294,"o":116.20,"h":116.36,"l":116.17,"c":116.32,"r":72,"s":64.2},
{"k":295,"o":116.32,"h":116.59,"l":116.30,"c":116.55,"r":77,"s":65.8},
{"k":296,"o":116.55,"h":116.90,"l":116.52,"c":116.85,"r":79.5,"s":67.4},
{"k":297,"o":116.85,"h":117.10,"l":116.82,"c":117.05,"r":80.5,"s":69},
{"k":298,"o":117.05,"h":117.35,"l":117.02,"c":117.30,"r":81.5,"s":70.6},
{"k":299,"o":117.30,"h":117.50,"l":117.26,"c":117.45,"r":82.5,"s":72.2},
{"k":300,"o":117.45,"h":117.65,"l":117.42,"c":117.60,"r":83.4,"s":73.8},
{"k":301,"o":117.60,"h":117.75,"l":117.56,"c":117.70,"r":84.4,"s":75.2},
{"k":302,"o":117.70,"h":117.83,"l":117.66,"c":117.78,"r":85,"s":76.7},
{"k":303,"o":117.78,"h":117.93,"l":117.74,"c":117.88,"r":86,"s":78.1},
{"k":304,"o":117.88,"h":118.00,"l":117.84,"c":117.95,"r":87,"s":79.6},
{"k":305,"o":117.95,"h":118.10,"l":117.91,"c":118.05,"r":87.6,"s":81},
{"k":306,"o":118.05,"h":118.15,"l":118.01,"c":118.10,"r":88.3,"s":80.8},
{"k":307,"o":118.10,"h":118.42,"l":118.06,"c":118.25,"r":88.7,"s":80.5},
{"k":308,"o":118.25,"h":118.28,"l":117.75,"c":117.90,"r":69,"s":80.3},
{"k":309,"o":117.90,"h":118.07,"l":117.86,"c":118.02,"r":72.6,"s":80},
{"k":310,"o":118.02,"h":118.32,"l":117.98,"c":118.28,"r":74,"s":79.8},
{"k":311,"o":118.28,"h":118.35,"l":118.24,"c":118.30,"r":75,"s":79.4},
{"k":312,"o":118.30,"h":118.37,"l":118.25,"c":118.32,"r":69,"s":79},
{"k":313,"o":118.32,"h":118.36,"l":118.21,"c":118.26,"r":72.5,"s":78.6},
{"k":314,"o":118.26,"h":118.34,"l":118.22,"c":118.30,"r":73.8,"s":78.2},
{"k":315,"o":118.30,"h":118.49,"l":118.27,"c":118.45,"r":70,"s":77.8},
{"k":316,"o":118.45,"h":118.60,"l":118.42,"c":118.55,"r":71.5,"s":77.4},
{"k":317,"o":118.55,"h":118.90,"l":118.52,"c":118.85,"r":73,"s":76.4},
{"k":318,"o":118.85,"h":118.96,"l":118.80,"c":118.90,"r":76.2,"s":75.5},
{"k":319,"o":118.90,"h":118.93,"l":118.74,"c":118.78,"r":72,"s":74.5},
{"k":320,"o":118.78,"h":118.82,"l":118.68,"c":118.72,"r":70,"s":73.6},
{"k":321,"o":118.72,"h":118.75,"l":118.50,"c":118.55,"r":69,"s":72.6},
{"k":322,"o":118.55,"h":118.58,"l":118.38,"c":118.42,"r":61,"s":71.9},
{"k":323,"o":118.42,"h":118.59,"l":118.39,"c":118.55,"r":61,"s":71.2},
{"k":324,"o":118.55,"h":118.74,"l":118.52,"c":118.70,"r":63,"s":70.4},
{"k":325,"o":118.70,"h":118.89,"l":118.67,"c":118.85,"r":65.4,"s":69.7},
{"k":326,"o":118.85,"h":119.02,"l":118.82,"c":118.98,"r":68,"s":69},
{"k":327,"o":118.98,"h":119.14,"l":118.95,"c":119.10,"r":70.2,"s":69},
{"k":328,"o":119.10,"h":119.19,"l":119.07,"c":119.15,"r":70.2,"s":69.1},
{"k":329,"o":119.15,"h":119.22,"l":119.12,"c":119.18,"r":70.5,"s":69.2},
{"k":330,"o":119.18,"h":119.24,"l":119.15,"c":119.20,"r":71,"s":69.3},
{"k":331,"o":119.20,"h":119.23,"l":119.14,"c":119.18,"r":71.4,"s":69.4},
{"k":332,"o":119.18,"h":119.26,"l":119.15,"c":119.22,"r":70.5,"s":69.5},
{"k":333,"o":119.22,"h":119.29,"l":119.19,"c":119.25,"r":70.2,"s":70},
{"k":334,"o":119.25,"h":119.44,"l":119.22,"c":119.40,"r":71.4,"s":70.5},
{"k":335,"o":119.40,"h":119.92,"l":119.38,"c":119.85,"r":77,"s":71.1},
{"k":336,"o":119.85,"h":120.03,"l":119.82,"c":119.905,"r":79.38,"s":71.66}
]},
"vconcat": [
{
 "width": 1236, "height": 443,
 "layer": [
  {"data": {"name": "levels"},
   "mark": {"type": "rule", "strokeWidth": 2, "clip": true},
   "encoding": {
     "x": {"field": "k0", "type": "quantitative", "title": null, "scale": {"domain": [-26.9, 370.8], "nice": false, "zero": false},
           "axis": {"title": null, "values": [0,30,60,90,126,150,180,210,246,270,300,330,360], "tickCount": 20, "grid": true, "labels": false, "ticks": false, "domain": true, "domainWidth": 2, "orient": "bottom"}},
     "x2": {"datum": 370.8},
     "y": {"field": "p", "type": "quantitative", "title": null, "scale": {"domain": [111.06, 122.65], "nice": false, "zero": false},
           "axis": {"title": null, "orient": "right", "values": [112,113,114,115,116,117,118,121,122], "tickCount": 20, "format": ".3f", "grid": true, "ticks": false, "labelPadding": 6}},
     "color": {"field": "c", "type": "nominal", "scale": {"domain": ["red", "green"], "range": ["#f23645", "#4caf50"]}, "legend": null}}},
  {"data": {"values": [{"v": 119}, {"v": 120}]},
   "mark": {"type": "rule", "color": "#ececec", "strokeWidth": 1},
   "encoding": {"y": {"field": "v", "type": "quantitative", "title": null, "scale": {"domain": [111.06, 122.65], "nice": false, "zero": false}}}},
  {"data": {"name": "last"},
   "mark": {"type": "rule", "color": "#ef5350", "strokeWidth": 1, "strokeDash": [1, 2]},
   "encoding": {"y": {"field": "p", "type": "quantitative", "title": null, "scale": {"domain": [111.06, 122.65], "nice": false, "zero": false}}}},
  {"data": {"name": "candles"},
   "mark": {"type": "rule", "strokeWidth": 1, "clip": true},
   "encoding": {
     "x": {"field": "k", "type": "quantitative", "title": null, "scale": {"domain": [-26.9, 370.8], "nice": false, "zero": false}},
     "y": {"field": "l", "type": "quantitative", "title": null, "scale": {"domain": [111.06, 122.65], "nice": false, "zero": false}},
     "y2": {"field": "h"},
     "color": {"condition": {"test": "datum.c >= datum.o", "value": "#3a7d62"}, "value": "#a8403e"}}},
  {"data": {"name": "candles"},
   "mark": {"type": "rule", "strokeWidth": 2.2, "strokeCap": "butt", "clip": true},
   "encoding": {
     "x": {"field": "k", "type": "quantitative", "title": null, "scale": {"domain": [-26.9, 370.8], "nice": false, "zero": false}},
     "y": {"field": "o", "type": "quantitative", "title": null, "scale": {"domain": [111.06, 122.65], "nice": false, "zero": false}},
     "y2": {"field": "c"},
     "color": {"condition": {"test": "datum.c >= datum.o", "value": "#3a7d62"}, "value": "#a8403e"}}},
  {"data": {"name": "arrows"},
   "mark": {"type": "rule", "strokeWidth": 3, "color": "#f2211b", "strokeCap": "round"},
   "encoding": {
     "x": {"field": "k1", "type": "quantitative", "title": null, "scale": {"domain": [-26.9, 370.8], "nice": false, "zero": false}},
     "x2": {"field": "k2"},
     "y": {"field": "p1", "type": "quantitative", "title": null, "scale": {"domain": [111.06, 122.65], "nice": false, "zero": false}},
     "y2": {"field": "p2"}}},
  {"data": {"name": "arrows"},
   "transform": [{"filter": "datum.id == 1 || datum.id == 3"}],
   "mark": {"type": "point", "shape": "triangle-right", "size": 120, "filled": true, "opacity": 1, "color": "#f2211b", "strokeWidth": 0},
   "encoding": {
     "x": {"field": "k2", "type": "quantitative", "title": null, "scale": {"domain": [-26.9, 370.8], "nice": false, "zero": false}},
     "y": {"field": "p2", "type": "quantitative", "title": null, "scale": {"domain": [111.06, 122.65], "nice": false, "zero": false}}}},
  {"data": {"name": "arrows"},
   "transform": [{"filter": "datum.id == 2"}],
   "mark": {"type": "point", "shape": "triangle-up", "angle": 20, "size": 120, "filled": true, "opacity": 1, "color": "#f2211b", "strokeWidth": 0},
   "encoding": {
     "x": {"field": "k2", "type": "quantitative", "title": null, "scale": {"domain": [-26.9, 370.8], "nice": false, "zero": false}},
     "y": {"field": "p2", "type": "quantitative", "title": null, "scale": {"domain": [111.06, 122.65], "nice": false, "zero": false}}}},
  {"data": {"name": "arrows"},
   "transform": [{"filter": "datum.id == 4"}],
   "mark": {"type": "point", "shape": "triangle-up", "angle": 26, "size": 120, "filled": true, "opacity": 1, "color": "#f2211b", "strokeWidth": 0},
   "encoding": {
     "x": {"field": "k2", "type": "quantitative", "title": null, "scale": {"domain": [-26.9, 370.8], "nice": false, "zero": false}},
     "y": {"field": "p2", "type": "quantitative", "title": null, "scale": {"domain": [111.06, 122.65], "nice": false, "zero": false}}}},
  {"data": {"name": "tags"},
   "mark": {"type": "point", "shape": "M-1,-0.29H1V0.29H-1Z", "size": 1560, "filled": true, "opacity": 1, "strokeWidth": 0, "clip": false},
   "encoding": {
     "x": {"datum": 377.6, "scale": {"domain": [-26.9, 370.8], "nice": false, "zero": false}},
     "y": {"field": "p", "type": "quantitative", "title": null, "scale": {"domain": [111.06, 122.65], "nice": false, "zero": false}},
     "color": {"field": "c", "type": "nominal", "scale": {"domain": ["red", "green"], "range": ["#f23645", "#4caf50"]}, "legend": null}}},
  {"data": {"name": "tags"},
   "mark": {"type": "text", "color": "white", "fontSize": 9.5, "fontWeight": 500, "align": "center", "baseline": "middle", "clip": false},
   "encoding": {
     "x": {"datum": 377.6, "scale": {"domain": [-26.9, 370.8], "nice": false, "zero": false}},
     "y": {"field": "p", "type": "quantitative", "title": null, "scale": {"domain": [111.06, 122.65], "nice": false, "zero": false}},
     "text": {"field": "lab"}}},
  {"data": {"name": "last"},
   "mark": {"type": "point", "shape": "M-1,-0.6H1V0.6H-1Z", "size": 1560, "filled": true, "opacity": 1, "strokeWidth": 0, "color": "#ef5350", "yOffset": 5.5, "clip": false},
   "encoding": {
     "x": {"datum": 377.6, "scale": {"domain": [-26.9, 370.8], "nice": false, "zero": false}},
     "y": {"field": "p", "type": "quantitative", "title": null, "scale": {"domain": [111.06, 122.65], "nice": false, "zero": false}}}},
  {"data": {"name": "last"},
   "mark": {"type": "text", "color": "white", "fontSize": 9.5, "fontWeight": 500, "align": "center", "baseline": "middle", "clip": false},
   "encoding": {
     "x": {"datum": 377.6, "scale": {"domain": [-26.9, 370.8], "nice": false, "zero": false}},
     "y": {"field": "p", "type": "quantitative", "title": null, "scale": {"domain": [111.06, 122.65], "nice": false, "zero": false}},
     "text": {"field": "lab"}}},
  {"data": {"name": "last"},
   "mark": {"type": "text", "color": "white", "fontSize": 9, "align": "center", "baseline": "middle", "dy": 11, "clip": false},
   "encoding": {
     "x": {"datum": 377.6, "scale": {"domain": [-26.9, 370.8], "nice": false, "zero": false}},
     "y": {"field": "p", "type": "quantitative", "title": null, "scale": {"domain": [111.06, 122.65], "nice": false, "zero": false}},
     "text": {"field": "time"}}},
  {"data": {"name": "last"},
   "mark": {"type": "point", "shape": "M-1,-0.4H1V0.4H-1Z", "size": 1089, "filled": true, "opacity": 1, "strokeWidth": 0, "color": "#ef5350", "yOffset": 0.5},
   "encoding": {
     "x": {"datum": 364.5, "scale": {"domain": [-26.9, 370.8], "nice": false, "zero": false}},
     "y": {"field": "p", "type": "quantitative", "title": null, "scale": {"domain": [111.06, 122.65], "nice": false, "zero": false}}}},
  {"data": {"name": "last"},
   "mark": {"type": "text", "color": "white", "fontSize": 9, "align": "center", "baseline": "middle"},
   "encoding": {
     "x": {"datum": 364.5, "scale": {"domain": [-26.9, 370.8], "nice": false, "zero": false}},
     "y": {"field": "p", "type": "quantitative", "title": null, "scale": {"domain": [111.06, 122.65], "nice": false, "zero": false}},
     "text": {"field": "sym"}}}
 ]
},
{
 "width": 1236, "height": 105,
 "layer": [
  {"data": {"name": "bands"},
   "mark": {"type": "rect", "color": "#7e57c2", "opacity": 0.09},
   "encoding": {
     "x": {"datum": -26.9, "scale": {"domain": [-26.9, 370.8], "nice": false, "zero": false},
           "axis": {"title": null, "values": [0,30,60,90,126,150,180,210,246,270,300,330,360], "tickCount": 20, "grid": true, "ticks": false, "labelPadding": 6, "labelFlush": false, "labelFontSize": 10,
                    "labelExpr": "['2022','10','17','24','Feb','7','14','21','Mar','7','14','21','28'][indexof([0,30,60,90,126,150,180,210,246,270,300,330,360], datum.value)]"}},
     "x2": {"datum": 370.8},
     "y": {"field": "hi", "type": "quantitative", "title": null, "scale": {"domain": [17.1, 92.9], "nice": false, "zero": false},
           "axis": {"title": null, "orient": "right", "values": [20, 40, 60, 80], "tickCount": 10, "format": ".2f", "grid": true, "ticks": false, "labelPadding": 6, "labelOverlap": false}},
     "y2": {"field": "lo"}}},
  {"data": {"name": "bands"},
   "mark": {"type": "rule", "color": "#8a8d96", "strokeWidth": 1, "strokeDash": [4, 4]},
   "encoding": {"y": {"field": "hi", "type": "quantitative", "title": null, "scale": {"domain": [17.1, 92.9], "nice": false, "zero": false}}}},
  {"data": {"name": "bands"},
   "mark": {"type": "rule", "color": "#8a8d96", "strokeWidth": 1, "strokeDash": [4, 4]},
   "encoding": {"y": {"field": "lo", "type": "quantitative", "title": null, "scale": {"domain": [17.1, 92.9], "nice": false, "zero": false}}}},
  {"data": {"values": [{"v": 50}]},
   "mark": {"type": "rule", "color": "#a9abb3", "strokeWidth": 1, "strokeDash": [4, 4], "opacity": 0.8},
   "encoding": {"y": {"field": "v", "type": "quantitative", "title": null, "scale": {"domain": [17.1, 92.9], "nice": false, "zero": false}}}},
  {"data": {"name": "candles"},
   "mark": {"type": "line", "color": "#f3d77a", "strokeWidth": 1.2, "clip": true},
   "encoding": {
     "x": {"field": "k", "type": "quantitative", "title": null, "scale": {"domain": [-26.9, 370.8], "nice": false, "zero": false}},
     "y": {"field": "s", "type": "quantitative", "title": null, "scale": {"domain": [17.1, 92.9], "nice": false, "zero": false}}}},
  {"data": {"name": "candles"},
   "mark": {"type": "line", "color": "#7e57c2", "strokeWidth": 1, "clip": true},
   "encoding": {
     "x": {"field": "k", "type": "quantitative", "title": null, "scale": {"domain": [-26.9, 370.8], "nice": false, "zero": false}},
     "y": {"field": "r", "type": "quantitative", "title": null, "scale": {"domain": [17.1, 92.9], "nice": false, "zero": false}}}},
  {"data": {"values": [{}]},
   "mark": {"type": "text", "align": "left", "baseline": "middle", "fontSize": 9.5, "color": "#555555"},
   "encoding": {"x": {"datum": -26.9}, "y": {"datum": 84.3}, "text": {"value": "SMA 14 2"}}},
  {"data": {"values": [{}]},
   "mark": {"type": "text", "align": "left", "baseline": "middle", "fontSize": 9.5, "color": "#7e57c2"},
   "encoding": {"x": {"datum": -12.4}, "y": {"datum": 84.3}, "text": {"value": "79.38"}}},
  {"data": {"values": [{}]},
   "mark": {"type": "text", "align": "left", "baseline": "middle", "fontSize": 9.5, "color": "#e8c84f"},
   "encoding": {"x": {"datum": -3.9}, "y": {"datum": 84.3}, "text": {"value": "71.66"}}},
  {"data": {"values": [{}]},
   "mark": {"type": "text", "align": "left", "baseline": "middle", "fontSize": 9.5, "color": "#555555"},
   "encoding": {"x": {"datum": 5.0}, "y": {"datum": 84.3}, "text": {"value": "n/a n/a"}}},
  {"data": {"values": [{}]},
   "mark": {"type": "text", "align": "center", "baseline": "middle", "fontSize": 25, "font": "Lato", "fontWeight": 300, "fill": "white", "fillOpacity": 0, "stroke": "#333333", "strokeWidth": 0.6, "clip": false},
   "encoding": {"x": {"datum": 356.3}, "y": {"datum": 31.6}, "text": {"value": "@TradingHero"}}},
  {"data": {"values": [{}]},
   "mark": {"type": "text", "align": "center", "baseline": "middle", "fontSize": 15, "font": "DejaVu Sans", "color": "#555555", "clip": false},
   "encoding": {"x": {"datum": 377.5}, "y": {"datum": 10}, "text": {"value": "⚙"}}}
 ]
}
]
}
